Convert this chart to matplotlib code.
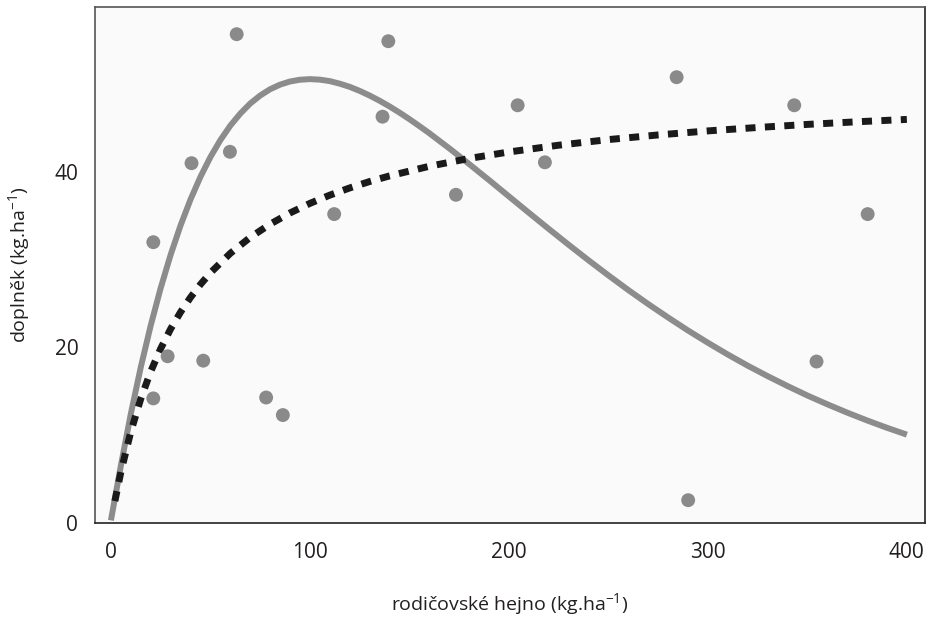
import matplotlib
matplotlib.use("Agg")
import matplotlib.pyplot as plt

plt.rcParams['font.family'] = ['Open Sans', 'DejaVu Sans']
plt.rcParams['mathtext.default'] = 'regular'

# observed points (parent stock, recruitment)
stock_obs = [21.3, 21.3, 28.5, 40.5, 46.4, 59.8, 63.2, 78.0, 86.4, 112.2,
             136.5, 139.4, 173.4, 204.4, 218.1, 284.3, 290.1, 343.4, 354.6, 380.3]
recruit_obs = [32.0, 14.2, 19.0, 41.0, 18.5, 42.3, 55.7, 14.3, 12.3, 35.2,
               46.3, 54.9, 37.4, 47.6, 41.1, 50.8, 2.6, 47.6, 18.4, 35.2]

# solid grey curve
ricker_x = [0, 5, 10, 15, 20, 25, 30, 35, 40, 45, 50, 55, 60, 65, 70, 75, 80,
            85, 90, 95, 100, 105, 110, 115, 120, 125, 130, 135, 140, 145, 150,
            155, 160, 165, 170, 175, 180, 185, 190, 195, 200, 210, 220, 230,
            240, 250, 260, 270, 280, 290, 300, 310, 320, 330, 340, 350, 360,
            370, 380, 390, 400]
ricker_y = [0.3, 6.54, 12.44, 17.75, 22.51, 26.77, 30.56, 33.91, 36.87, 39.45,
            41.70, 43.63, 45.28, 46.65, 47.80, 48.71, 49.43, 49.95, 50.31,
            50.51, 50.58, 50.52, 50.35, 50.06, 49.70, 49.24, 48.71, 48.12,
            47.47, 46.77, 46.02, 45.23, 44.42, 43.56, 42.70, 41.81, 40.91,
            39.99, 39.08, 38.15, 37.22, 35.36, 33.52, 31.71, 29.94, 28.22,
            26.55, 24.95, 23.42, 21.94, 20.54, 19.20, 17.93, 16.74, 15.61,
            14.53, 13.53, 12.58, 11.69, 10.85, 10.07]

# dotted black curve
bh_x = [2, 5, 10, 15, 20, 25, 30, 35, 40, 45, 50, 60, 70, 80, 90, 100, 110,
        120, 130, 140, 160, 180, 200, 225, 250, 275, 300, 325, 350, 375, 400]
bh_y = [2.50, 5.81, 10.41, 14.16, 17.26, 19.87, 22.11, 24.03, 25.71, 27.19,
        28.51, 30.73, 32.55, 34.05, 35.33, 36.42, 37.36, 38.18, 38.91, 39.55,
        40.65, 41.54, 42.28, 43.05, 43.69, 44.22, 44.68, 45.07, 45.42, 45.72,
        45.99]

xticks = [0, 100, 200, 300, 400]
yticks = [0, 20, 40]

fig = plt.figure(figsize=(9.36, 6.18), dpi=100)
ax = fig.add_axes([0.1015, 0.1537, 0.8865, 0.835])
ax.set_facecolor('#fafafa')

ax.plot(ricker_x, ricker_y, color='#8c8c8c', lw=4.3, solid_capstyle='butt',
        solid_joinstyle='round', zorder=2)
ax.plot(bh_x, bh_y, color='#1a1a1a', lw=5, dashes=(1.45, 1.35), zorder=3)
ax.scatter(stock_obs, recruit_obs, s=100, color='#8a8a8a', edgecolors='none', zorder=4)

ax.set_xlim(-8, 409)
ax.set_ylim(0, 58.8)
ax.set_xticks(xticks)
ax.set_yticks(yticks)
ax.tick_params(axis='both', length=0, labelsize=15, colors='#231f20')
ax.tick_params(axis='x', pad=14)
ax.tick_params(axis='y', pad=12)

for side, s in ax.spines.items():
    s.set_color('#555555' if side in ('top', 'left') else '#222222')
    s.set_linewidth(1.2)

ax.set_xlabel(r'rodičovské hejno (kg.ha$^{-1}$)', fontsize=14, color='#231f20', labelpad=20)
ax.set_ylabel(r'doplněk (kg.ha$^{-1}$)', fontsize=14, color='#231f20', labelpad=16)

fig.savefig('out.png', dpi=100)
